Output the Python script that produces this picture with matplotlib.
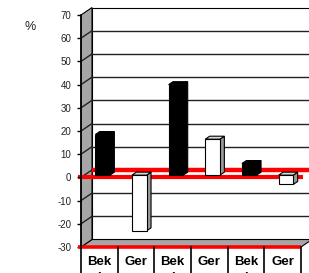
import matplotlib
matplotlib.use("Agg")
import matplotlib.pyplot as plt
from matplotlib.patches import Polygon

plt.rcParams['font.family'] = ['Liberation Sans', 'DejaVu Sans']
plt.rcParams['axes.unicode_minus'] = False

categories = ["Bek\ni", "Ger\nu", "Bek\ni", "Ger\nu", "Bek\ni", "Ger\nu"]
values = [17.5, -24, 39, 15.5, 5, -4]
colors = ["black", "white", "black", "white", "black", "white"]
yticks = [-30, -20, -10, 0, 10, 20, 30, 40, 50, 60, 70]

ymin, ymax = -30, 70
n = len(categories)
DX, DY = 0.3, 3.23          # depth of the 3d box in data units
bw = 0.4                    # bar width
f0, f1 = 0.3, 0.7           # bar depth span (fraction)

fig = plt.figure(figsize=(3.09, 2.73), dpi=100)
ax = fig.add_axes([81 / 309, 26 / 273, 220 / 309, 232 / 273])
ax.set_xlim(0, n)
ax.set_ylim(ymin, ymax)
ax.patch.set_visible(False)


def poly(pts, fc, ec="black", lw=0.8, z=1):
    ax.add_patch(Polygon(pts, closed=True, facecolor=fc, edgecolor=ec,
                         linewidth=lw, zorder=z, clip_on=False))


# back wall, floor, left wall
poly([(DX, ymin + DY), (DX, ymax + DY), (n + DX, ymax + DY), (n + DX, ymin + DY)], "white", z=0.5)
poly([(0, ymin), (DX, ymin + DY), (n + DX, ymin + DY), (n, ymin)], "#a6a6a6", z=0.6)
poly([(0, ymin), (0, ymax), (DX, ymax + DY), (DX, ymin + DY)], "#a6a6a6", z=0.6)

# gridlines on the walls
for v in yticks[1:-1]:
    if v == 0:
        continue
    ax.plot([DX, n + DX], [v + DY, v + DY], color="#222222", lw=1.0, zorder=0.7, clip_on=False)
    ax.plot([0, DX], [v, v + DY], color="#222222", lw=1.0, zorder=0.7, clip_on=False)

# zero lines and bottom line in red
ax.plot([0, DX], [0, DY], color="#222222", lw=1.0, zorder=0.7, clip_on=False)
ax.plot([DX, n + DX], [DY, DY], color="red", lw=3.2, zorder=0.8, clip_on=False, solid_capstyle="butt")
ax.plot([-0.08, n + 0.05], [0, 0], color="red", lw=3.0, zorder=0.9, clip_on=False, solid_capstyle="butt")
ax.plot([-0.08, n], [ymin, ymin], color="red", lw=2.6, zorder=3, clip_on=False, solid_capstyle="butt")

# 3d bars
for i, (v, c) in enumerate(zip(values, colors)):
    xl = i + 0.5 - bw / 2
    xr = i + 0.5 + bw / 2
    lo, hi = min(0, v), max(0, v)
    fx, fy = f0 * DX, f0 * DY
    bx, by = f1 * DX, f1 * DY
    side = "black" if c == "black" else "#999999"
    top = "black" if c == "black" else "#d9d9d9"
    poly([(xr + fx, lo + fy), (xr + fx, hi + fy), (xr + bx, hi + by), (xr + bx, lo + by)], side, z=2)
    poly([(xl + fx, hi + fy), (xr + fx, hi + fy), (xr + bx, hi + by), (xl + bx, hi + by)], top, z=2)
    poly([(xl + fx, lo + fy), (xl + fx, hi + fy), (xr + fx, hi + fy), (xr + fx, lo + fy)], c, z=2.1)

# category dividers below the floor
for k in range(n + 1):
    ax.plot([k, k], [ymin, ymin - 12], color="black", lw=1.2, zorder=3, clip_on=False)

for s in ["top", "right", "bottom"]:
    ax.spines[s].set_visible(False)
ax.spines["left"].set_linewidth(1.2)
ax.spines["left"].set_zorder(3)
ax.set_yticks(yticks)
ax.tick_params(axis="y", direction="out", length=2.6, width=1.0, pad=4.5,
               labelsize=7, labelcolor="#222222")
ax.set_xticks([k + 0.5 for k in range(n)])
ax.set_xticklabels(categories, fontsize=9.5, fontweight="bold", linespacing=1.5)
ax.tick_params(axis="x", length=0, pad=6.2)

fig.text(30 / 309, 1 - 27 / 273, "%", fontsize=9, ha="center", va="center", color="#222222")

fig.savefig("out.png", dpi=100)
